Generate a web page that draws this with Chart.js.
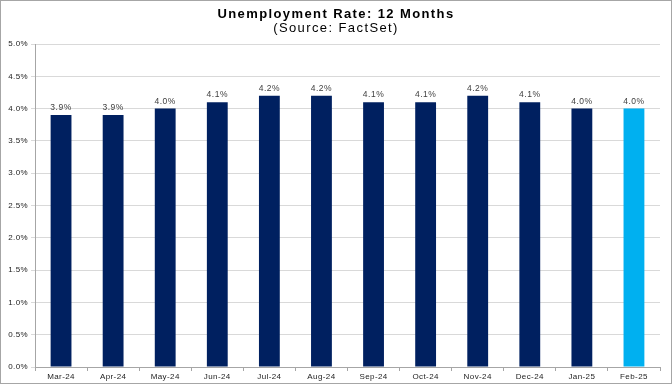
<!DOCTYPE html>
<html>
<head>
<meta charset="utf-8">
<script src="https://cdn.jsdelivr.net/npm/chart.js@4.4.1/dist/chart.umd.min.js"></script>
<style>
  html, body { margin: 0; padding: 0; background: #fff; }
  #wrap { width: 672px; height: 384px; position: relative; }
</style>
</head>
<body>
<div id="wrap"><canvas id="c" width="672" height="384"></canvas></div>
<script>
const categories = ["Mar-24","Apr-24","May-24","Jun-24","Jul-24","Aug-24","Sep-24","Oct-24","Nov-24","Dec-24","Jan-25","Feb-25"];
const rates = [3.9, 3.9, 4.0, 4.1, 4.2, 4.2, 4.1, 4.1, 4.2, 4.1, 4.0, 4.0];
const barColors = ["#002060","#002060","#002060","#002060","#002060","#002060","#002060","#002060","#002060","#002060","#002060","#00B0F0"];
const titleText = "Unemployment Rate: 12 Months";
const subtitleText = "(Source: FactSet)";
const FONT = '"Liberation Sans", Arial, sans-serif';

const frame = {
  id: 'frame',
  beforeDraw(chart) {
    const ctx = chart.ctx;
    ctx.fillStyle = '#fff';
    ctx.fillRect(0, 0, chart.width, chart.height);
    ctx.letterSpacing = '0.4px';
  },
  afterDraw(chart) {
    const ctx = chart.ctx;
    ctx.save();
    ctx.strokeStyle = '#A6A6A6';
    ctx.lineWidth = 1;
    ctx.strokeRect(0.5, 0.5, chart.width - 1, chart.height - 1);
    // titles
    ctx.fillStyle = '#000';
    ctx.textAlign = 'center';
    ctx.textBaseline = 'middle';
    ctx.letterSpacing = '1.4px';
    ctx.font = 'bold 13px ' + FONT;
    ctx.fillText(titleText, chart.width / 2, 14);
    ctx.font = '13px ' + FONT;
    ctx.fillText(subtitleText, chart.width / 2, 28);
    ctx.restore();
  }
};

const valueLabels = {
  id: 'valueLabels',
  afterDatasetsDraw(chart) {
    const ctx = chart.ctx;
    const meta = chart.getDatasetMeta(0);
    ctx.save();
    ctx.letterSpacing = '0.5px';
    ctx.font = '8.5px ' + FONT;
    ctx.fillStyle = '#404040';
    ctx.textAlign = 'center';
    ctx.textBaseline = 'bottom';
    meta.data.forEach((bar, i) => {
      ctx.fillText(rates[i].toFixed(1) + '%', bar.x, bar.y - 3);
    });
    ctx.restore();
  }
};

new Chart(document.getElementById('c'), {
  type: 'bar',
  data: {
    labels: categories,
    datasets: [{
      data: rates,
      backgroundColor: barColors,
      borderWidth: 0,
      categoryPercentage: 1.0,
      barPercentage: 0.4
    }]
  },
  options: {
    responsive: false,
    animation: false,
    layout: { padding: { left: 0, right: 12, top: 44, bottom: 3 } },
    plugins: {
      legend: { display: false },
      tooltip: { enabled: false },
      title: { display: false },
      subtitle: { display: false }
    },
    scales: {
      x: {
        grid: { display: true, drawOnChartArea: false, drawTicks: true, tickLength: 4, offset: true, color: '#A6A6A6' },
        border: { display: true, color: '#A6A6A6' },
        ticks: {
          color: '#222',
          font: { family: FONT, size: 8 },
          padding: 1,
          maxRotation: 0,
          autoSkip: false
        },
        afterFit(s) { s.height = 14; }
      },
      y: {
        min: 0,
        max: 5,
        grid: { color: '#D9D9D9', drawTicks: true, tickLength: 4 },
        border: { display: true, color: '#A6A6A6' },
        ticks: {
          stepSize: 0.5,
          color: '#222',
          font: { family: FONT, size: 8 },
          padding: 3,
          callback: v => v.toFixed(1) + '%'
        },
        afterFit(s) { s.width = 35; }
      }
    }
  },
  plugins: [frame, valueLabels]
});
</script>
</body>
</html>
